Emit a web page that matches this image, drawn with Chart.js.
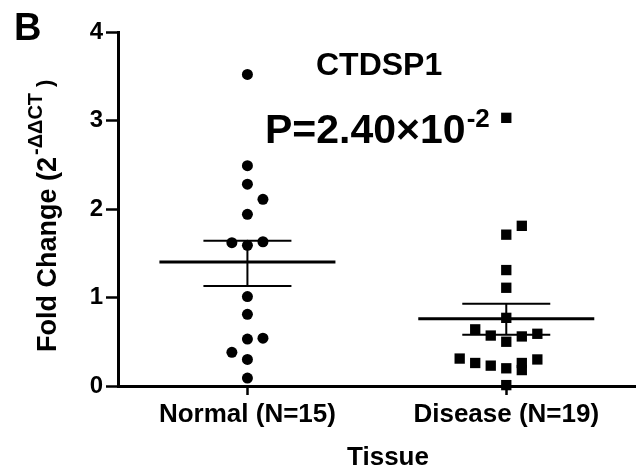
<!DOCTYPE html>
<html>
<head>
<meta charset="utf-8">
<script src="https://cdn.jsdelivr.net/npm/chart.js@4.4.0/dist/chart.umd.min.js"></script>
<style>
  body { margin: 0; background: #fff; }
</style>
</head>
<body>
<canvas id="fold-chart" width="643" height="466"></canvas>
<script>
"use strict";

////////  DATA ///////////
const tissue_labels = ['Normal (N=15)', 'Disease (N=19)'];
const y_ticks = [0, 1, 2, 3, 4];

// dots: x = group position plus the small sideways shift of each dot
const normal_x = [1, 1, 1, 1.06, 1, 0.94, 1, 1.06, 1, 1, 1, 1.06, 0.94, 1, 1];
const normal_values = [3.52, 2.49, 2.28, 2.11, 1.94, 1.62, 1.59, 1.63, 1.01, 0.81, 0.53, 0.54, 0.38, 0.30, 0.09];

const disease_x = [2, 2.06, 2, 2, 2, 2, 1.88, 1.94, 2, 2.06, 2.12, 1.82, 1.88, 1.94, 2, 2.06, 2.06, 2.12, 2];
const disease_values = [3.03, 1.81, 1.71, 1.31, 1.11, 0.77, 0.64, 0.57, 0.50, 0.56, 0.59, 0.31, 0.26, 0.23, 0.20, 0.26, 0.18, 0.30, 0.01];

// mean +/- SEM per group
const group_means = [1.40, 0.76];
const sem_high = [1.64, 0.93];
const sem_low = [1.13, 0.58];

//////// HELPERS /////////
const FONT = '"Liberation Sans", Arial, sans-serif';
const MEAN_HALF = 0.34;  // half length of the mean bar, in x units
const CAP_HALF = 0.17;   // half length of the SEM caps

function to_points(xs, ys) {
  return ys.map((v, i) => ({x: xs[i], y: v}));
}

function mean_points() {
  const pts = [];
  group_means.forEach((m, i) => {
    const c = i + 1;
    pts.push({x: c - MEAN_HALF, y: m}, {x: c + MEAN_HALF, y: m}, {x: c, y: null});
  });
  return pts;
}

function sem_points() {
  const pts = [];
  group_means.forEach((m, i) => {
    const c = i + 1;
    pts.push({x: c - CAP_HALF, y: sem_high[i]}, {x: c + CAP_HALF, y: sem_high[i]}, {x: c, y: null});
    pts.push({x: c - CAP_HALF, y: sem_low[i]}, {x: c + CAP_HALF, y: sem_low[i]}, {x: c, y: null});
    pts.push({x: c, y: sem_low[i]}, {x: c, y: sem_high[i]}, {x: c, y: null});
  });
  return pts;
}

// texts with superscripts are drawn by hand
const fig_text = {
  id: 'fig_text',
  afterDraw(chart) {
    const ctx = chart.ctx;
    ctx.save();
    ctx.fillStyle = '#000';
    ctx.textBaseline = 'alphabetic';
    ctx.textAlign = 'left';

    ctx.font = 'bold 38px ' + FONT;
    ctx.fillText('B', 14, 40);

    ctx.font = 'bold 32px ' + FONT;
    ctx.fillText('CTDSP1', 316, 75);

    ctx.font = 'bold 41px ' + FONT;
    ctx.fillText('P=2.40\u00d710', 265, 143);
    let w = ctx.measureText('P=2.40\u00d710').width;
    ctx.font = 'bold 26px ' + FONT;
    ctx.fillText('-2', 265 + w + 1, 127);

    ctx.textAlign = 'center';
    ctx.font = 'bold 26px ' + FONT;
    ctx.fillText('Tissue', 388, 465);

    // y axis title, rotated
    ctx.textAlign = 'left';
    ctx.translate(56, 352);
    ctx.rotate(-Math.PI / 2);
    ctx.font = 'bold 27px ' + FONT;
    ctx.fillText('Fold Change (2', 0, 0);
    w = ctx.measureText('Fold Change (2').width;
    ctx.font = 'bold 20px ' + FONT;
    ctx.fillText('-\u0394\u0394CT', w + 2, -14);
    const w2 = ctx.measureText('-\u0394\u0394CT').width;
    ctx.font = 'bold 22px ' + FONT;
    ctx.fillText(')', w + w2 + 8, -4);
    ctx.restore();
  }
};

//////// CHART /////////
const fold_ctx = document.getElementById('fold-chart').getContext('2d');
const fold_chart = new Chart(fold_ctx, {
  type: 'scatter',
  data: {
    datasets: [
      {
        label: 'Normal',
        data: to_points(normal_x, normal_values),
        pointStyle: 'circle',
        pointRadius: 5.5,
        pointBackgroundColor: '#000',
        pointBorderWidth: 0,
        clip: false,
      },
      {
        label: 'Disease',
        data: to_points(disease_x, disease_values),
        pointStyle: 'rect',
        pointRadius: 7.3,
        pointBackgroundColor: '#000',
        pointBorderWidth: 0,
        clip: false,
      },
      {
        label: 'mean',
        data: mean_points(),
        showLine: true,
        spanGaps: false,
        borderColor: '#000',
        borderWidth: 3,
        pointRadius: 0,
        clip: false,
      },
      {
        label: 'sem',
        data: sem_points(),
        showLine: true,
        spanGaps: false,
        borderColor: '#000',
        borderWidth: 2,
        pointRadius: 0,
        clip: false,
      },
    ]
  },
  options: {
    responsive: false,
    animation: false,
    layout: { padding: { top: 32, right: 0, left: 0, bottom: 0 } },
    plugins: {
      legend: { display: false },
      tooltip: { enabled: false },
    },
    scales: {
      x: {
        type: 'linear',
        min: 0.5,
        max: 2.5,
        afterBuildTicks: s => { s.ticks = [{value: 1}, {value: 2}]; },
        afterFit: s => { s.height = 80; },
        ticks: {
          callback: v => tissue_labels[v - 1],
          font: { family: FONT, size: 26, weight: 'bold' },
          color: '#000',
          padding: 4,
          maxRotation: 0,
          autoSkip: false,
        },
        grid: { drawOnChartArea: false, tickLength: 9, tickWidth: 2.5, tickColor: '#000' },
        border: { color: '#000', width: 3 },
      },
      y: {
        min: 0,
        max: 4,
        afterBuildTicks: s => { s.ticks = y_ticks.map(v => ({value: v})); },
        afterFit: s => { s.width = 118; },
        ticks: {
          font: { family: FONT, size: 24, weight: 'bold' },
          color: '#000',
          padding: 3,
        },
        grid: { drawOnChartArea: false, tickLength: 12, tickWidth: 2.5, tickColor: '#000' },
        border: { color: '#000', width: 3 },
      }
    }
  },
  plugins: [fig_text]
});
</script>
</body>
</html>
